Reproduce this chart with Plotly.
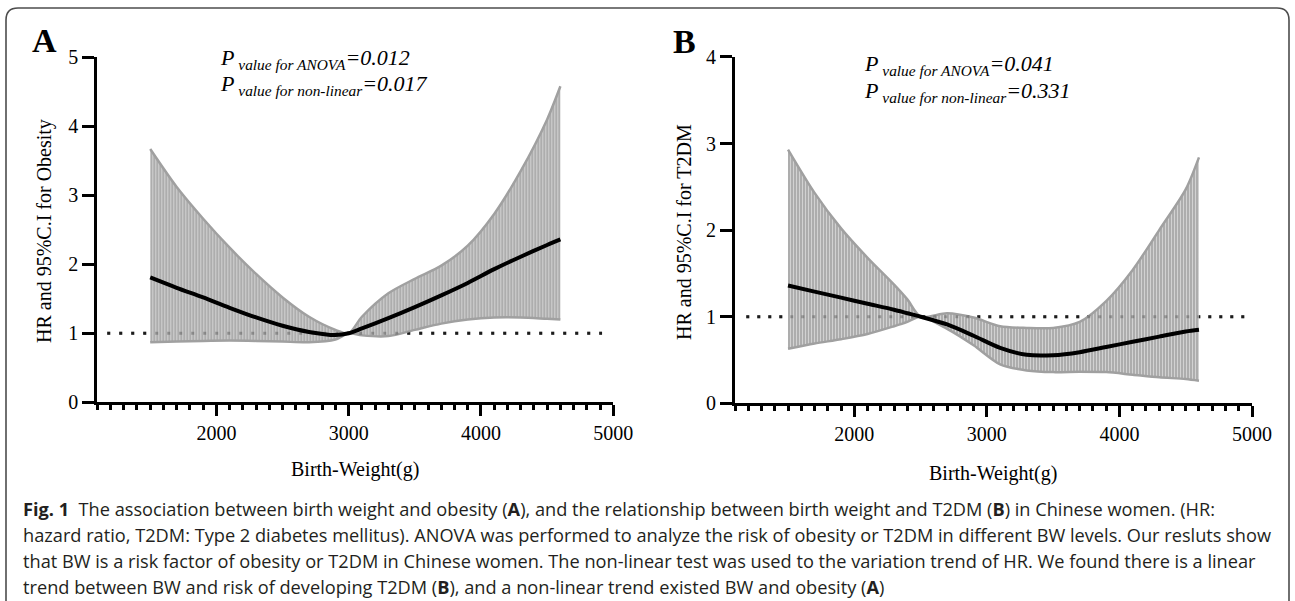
import plotly.graph_objects as go

# ---- data ----
# panel A: obesity
bw_a = [1500, 1700, 1900, 2100, 2300, 2500, 2700, 2900, 3000, 3100, 3300, 3500, 3700, 3900, 4100, 4300, 4500, 4600]
hr_a = [1.81, 1.66, 1.52, 1.37, 1.23, 1.11, 1.02, 0.975, 1.0, 1.07, 1.22, 1.38, 1.55, 1.73, 1.93, 2.11, 2.28, 2.36]
upper_a = [3.67, 3.12, 2.66, 2.24, 1.86, 1.52, 1.24, 1.05, 1.0, 1.24, 1.58, 1.79, 1.98, 2.27, 2.73, 3.35, 4.10, 4.58]
lower_a = [0.87, 0.88, 0.89, 0.895, 0.89, 0.88, 0.87, 0.91, 1.0, 0.97, 0.96, 1.05, 1.14, 1.20, 1.23, 1.23, 1.21, 1.20]

# panel B: T2DM
bw_b = [1500, 1700, 1900, 2100, 2300, 2400, 2500, 2700, 2900, 3100, 3300, 3500, 3700, 3900, 4100, 4300, 4500, 4600]
hr_b = [1.36, 1.29, 1.22, 1.15, 1.08, 1.04, 1.0, 0.91, 0.78, 0.64, 0.56, 0.555, 0.59, 0.65, 0.71, 0.77, 0.83, 0.85]
upper_b = [2.93, 2.43, 2.02, 1.68, 1.37, 1.20, 1.0, 1.04, 0.99, 0.89, 0.87, 0.87, 0.94, 1.18, 1.54, 2.00, 2.47, 2.84]
lower_b = [0.63, 0.69, 0.74, 0.80, 0.89, 0.94, 1.0, 0.86, 0.67, 0.45, 0.38, 0.36, 0.365, 0.36, 0.33, 0.30, 0.28, 0.26]

ref_x_a = [1175, 4915]
ref_x_b = [1185, 4955]
ref_y = [1, 1]

y_ticks_a = [0, 1, 2, 3, 4, 5]
y_ticks_b = [0, 1, 2, 3, 4]
x_ticks = [2000, 3000, 4000, 5000]

W, H = 1295, 601
SERIF = "Liberation Serif, Times New Roman, serif"
GREY = "#a0a0a0"


def px_x(p):
    return p / W


def px_y(p):
    return 1 - p / H


fig = go.Figure()


def add_panel(xa, ya, bw, hr, up, lo, refx, dash):
    # reference line at HR = 1
    fig.add_trace(go.Scatter(x=refx, y=ref_y, mode="lines", xaxis=xa, yaxis=ya,
                             line=dict(color="black", width=3, dash=dash),
                             hoverinfo="skip", showlegend=False))
    # 95% CI, drawn as dense vertical bars
    fig.add_trace(go.Scatter(x=bw, y=lo, mode="lines", xaxis=xa, yaxis=ya,
                             line=dict(color=GREY, width=2.5, shape="spline", smoothing=0.8),
                             showlegend=False))
    fig.add_trace(go.Scatter(x=bw, y=up, mode="lines", xaxis=xa, yaxis=ya,
                             line=dict(color=GREY, width=2.5, shape="spline", smoothing=0.8),
                             fill="tonexty", fillcolor="#b0b0b0",
                             fillpattern=dict(shape="|", size=3, solidity=0.3,
                                              fgcolor="white", bgcolor="#adadad"),
                             showlegend=False))
    # dots of the reference line showing faintly through the bars
    fig.add_trace(go.Scatter(x=refx, y=ref_y, mode="lines", xaxis=xa, yaxis=ya,
                             line=dict(color="rgba(70,70,70,0.4)", width=3, dash=dash),
                             hoverinfo="skip", showlegend=False))
    # HR curve
    fig.add_trace(go.Scatter(x=bw, y=hr, mode="lines", xaxis=xa, yaxis=ya,
                             line=dict(color="black", width=4, shape="spline", smoothing=0.8),
                             showlegend=False))


add_panel("x", "y", bw_a, hr_a, upper_a, lower_a, ref_x_a, "3px,9px")
add_panel("x2", "y2", bw_b, hr_b, upper_b, lower_b, ref_x_b, "3px,8px")

xax = dict(range=[1100, 5000], tickvals=x_ticks, showline=True, linecolor="black", linewidth=3,
           ticks="outside", ticklen=11, tickwidth=3, tickcolor="black",
           minor=dict(dtick=100, tick0=1100, ticks="outside", ticklen=5, tickwidth=2.5, tickcolor="black"),
           showgrid=False, zeroline=False, tickfont=dict(family=SERIF, size=20, color="black"),
           automargin=False, fixedrange=True)
yax = dict(showline=True, linecolor="black", linewidth=3, ticks="outside", ticklen=12,
           tickwidth=3, tickcolor="black", showgrid=False, zeroline=False,
           tickfont=dict(family=SERIF, size=20, color="black"), automargin=False, fixedrange=True)

annotations = []


def add_text(x, y, text, size, family=SERIF, xanchor="center", angle=0, color="black"):
    annotations.append(dict(x=px_x(x), y=px_y(y), xref="paper", yref="paper", text=text,
                            showarrow=False, xanchor=xanchor, yanchor="middle", textangle=angle,
                            font=dict(family=family, size=size, color=color)))


# panel letters
add_text(44, 41, "<b>A</b>", 34)
add_text(684, 42, "<b>B</b>", 34)

# axis titles
add_text(44, 231, "HR and 95%C.I for Obesity", 20, angle=-90)
add_text(684, 232, "HR and 95%C.I for T2DM", 20, angle=-90)
add_text(355, 469, "Birth-Weight(g)", 20)
add_text(993, 473, "Birth-Weight(g)", 20)

# p values
add_text(218, 59, "<i>P</i><sub><i> value for ANOVA</i></sub><i>=0.012</i>", 22, xanchor="left")
add_text(218, 85, "<i>P</i><sub><i> value for non-linear</i></sub><i>=0.017</i>", 22, xanchor="left")
add_text(862, 65, "<i>P</i><sub><i> value for ANOVA</i></sub><i>=0.041</i>", 22, xanchor="left")
add_text(862, 92, "<i>P</i><sub><i> value for non-linear</i></sub><i>=0.331</i>", 22, xanchor="left")

# caption
caption = [
    "<b>Fig. 1</b>  The association between birth weight and obesity (<b>A</b>), and the relationship between "
    "birth weight and T2DM (<b>B</b>) in Chinese women. (HR:",
    "hazard ratio, T2DM: Type 2 diabetes mellitus). ANOVA was performed to analyze the risk of obesity or T2DM "
    "in different BW levels. Our resluts show",
    "that BW is a risk factor of obesity or T2DM in Chinese women. The non-linear test was used to the variation "
    "trend of HR. We found there is a linear",
    "trend between BW and risk of developing T2DM (<b>B</b>), and a non-linear trend existed BW and obesity (<b>A</b>)",
]
cap_y = [509, 535, 561, 587]
for line, yy in zip(caption, cap_y):
    add_text(21, yy, line, 18.2, family="Open Sans, Noto Sans, sans-serif", xanchor="left", color="#231f20")

# rounded frame around the figure
x0, x1 = px_x(6), px_x(1289)
y0, y1 = px_y(8), px_y(640)
rx, ry = 12 / W, 12 / H
frame = (f"M {x0},{y1} L {x0},{y0 - ry} Q {x0},{y0} {x0 + rx},{y0} "
         f"L {x1 - rx},{y0} Q {x1},{y0} {x1},{y0 - ry} L {x1},{y1}")

fig.update_layout(
    width=W, height=H,
    margin=dict(l=0, r=0, t=0, b=0, autoexpand=False),
    paper_bgcolor="white", plot_bgcolor="white",
    showlegend=False,
    xaxis=dict(xax, domain=[px_x(97.3), px_x(613.3)], anchor="y"),
    yaxis=dict(yax, domain=[px_y(402.3), px_y(57.3)], range=[0, 5], tickvals=y_ticks_a, anchor="x"),
    xaxis2=dict(xax, domain=[px_x(735), px_x(1252)], anchor="y2"),
    yaxis2=dict(yax, domain=[px_y(403.3), px_y(56.9)], range=[0, 4], tickvals=y_ticks_b, anchor="x2"),
    annotations=annotations,
    shapes=[dict(type="path", path=frame, xref="paper", yref="paper",
                 line=dict(color="#4d4d4d", width=1.6))],
)

fig.write_html("out.html", config={"displayModeBar": False},
               post_script="document.body.style.margin = '0px';")
